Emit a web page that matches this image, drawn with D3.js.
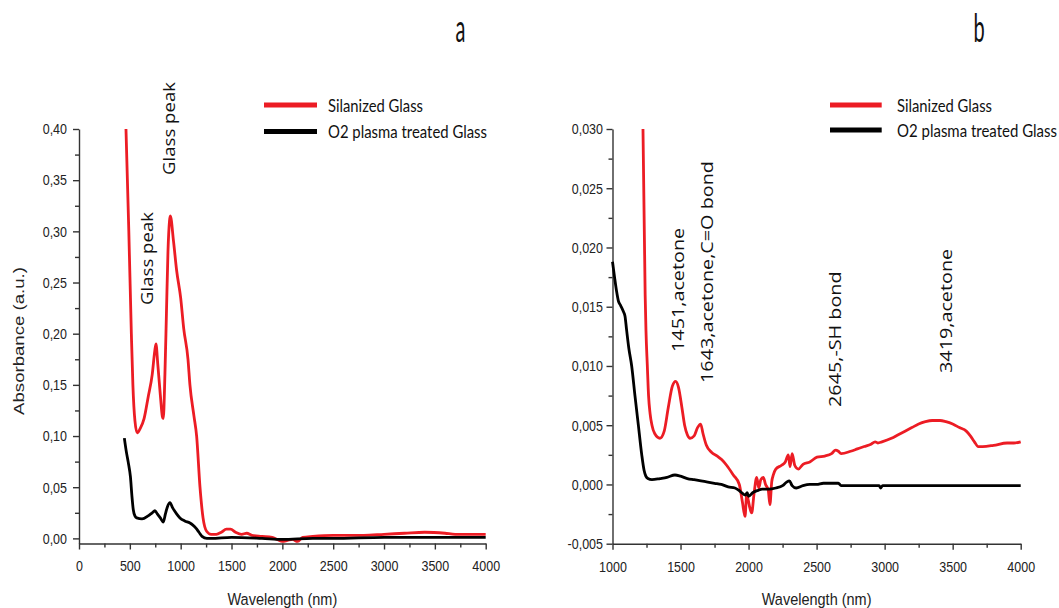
<!DOCTYPE html>
<html>
<head>
<meta charset="utf-8">
<script src="https://cdn.jsdelivr.net/npm/d3@7"></script>
<style>
  html, body { margin: 0; padding: 0; background: #fff; }
  svg { display: block; }
  .axis path, .axis line { stroke: #333; stroke-width: 1.4; }
  .axis text { font-family: "Liberation Sans", Arial, sans-serif; font-size: 12.5px; fill: #222; }
</style>
</head>
<body>
<svg id="chart" width="1059" height="608"></svg>
<script>
// ---- Series names ----
const seriesNames = ["Silanized Glass", "O2 plasma treated Glass"];
const seriesColors = ["#ec1c24", "#000000"];

// ---- Panel a: wavelength (nm) / absorbance ----
const aSilanizedWl = [462, 490, 515, 530, 550, 573, 600, 640, 680, 720, 745, 757, 775, 800, 820, 829, 845, 860, 875, 890, 898,
  930, 960, 1000, 1030, 1072, 1091, 1130, 1157, 1190, 1220, 1255, 1300, 1350, 1400, 1450, 1490, 1540, 1600, 1650, 1700,
  1800, 1900, 1950, 2000, 2050, 2100, 2150, 2200, 2300, 2500, 2800, 3000, 3200, 3400, 3600, 3700, 4000];
const aSilanizedAbs = [0.400, 0.300, 0.200, 0.150, 0.115, 0.103, 0.107, 0.117, 0.138, 0.160, 0.183, 0.190, 0.170, 0.140, 0.119, 0.117, 0.160, 0.220, 0.280, 0.310, 0.315,
  0.290, 0.262, 0.235, 0.205, 0.175, 0.150, 0.120, 0.100, 0.050, 0.020, 0.007, 0.004, 0.004, 0.006, 0.009, 0.009, 0.006, 0.004, 0.005, 0.003,
  0.002, 0.001, -0.001, -0.003, -0.002, -0.001, -0.003, 0.001, 0.002, 0.003, 0.003, 0.004, 0.005, 0.006, 0.005, 0.004, 0.004];

const aPlasmaWl = [446, 465, 485, 506, 520, 534, 550, 568, 620, 680, 720, 747, 770, 800, 829, 850, 870, 895, 920, 960, 993,
  1040, 1091, 1120, 1150, 1180, 1210, 1258, 1300, 1500, 1800, 2000, 2300, 2500, 3000, 3500, 4000];
const aPlasmaAbs = [0.098, 0.085, 0.074, 0.060, 0.042, 0.028, 0.022, 0.020, 0.019, 0.022, 0.025, 0.027, 0.024, 0.020, 0.016, 0.024, 0.031, 0.035, 0.030, 0.024, 0.020,
  0.017, 0.015, 0.013, 0.010, 0.006, 0.002, 0.000, 0.000, 0.001, 0.000, -0.001, 0.000, 0.000, 0.001, 0.001, 0.001];

const aXTicks = [0, 500, 1000, 1500, 2000, 2500, 3000, 3500, 4000];
const aYTicks = [0, 0.05, 0.10, 0.15, 0.20, 0.25, 0.30, 0.35, 0.40];
const aNotes = [
  { text: "Glass peak", wl: 757 },
  { text: "Glass peak", wl: 898 }
];

// ---- Panel b: wavelength (nm) / absorbance ----
const bSilanizedWl = [1224, 1240, 1246, 1256, 1265, 1276, 1290, 1310, 1349, 1380, 1410, 1440, 1464, 1485, 1510, 1530, 1550, 1570, 1600, 1625, 1648,
  1665, 1690, 1729, 1770, 1802, 1840, 1888, 1932, 1955, 1974, 1986, 1997, 2010, 2023, 2040, 2060, 2075, 2090, 2108, 2125, 2145, 2157,
  2170, 2182, 2200, 2240, 2270, 2292, 2305, 2320, 2340, 2366, 2400, 2450, 2503, 2560, 2610, 2640, 2660, 2680, 2750, 2800, 2850, 2900,
  2930, 2950, 2980, 3050, 3100, 3150, 3200, 3250, 3300, 3350, 3407, 3450, 3500, 3550, 3600, 3630, 3660, 3688, 3720, 3800, 3900, 3950, 4000];
const bSilanizedAbs = [0.0300, 0.0160, 0.0130, 0.0100, 0.0075, 0.0060, 0.0050, 0.0043, 0.0039, 0.0045, 0.0065, 0.0083, 0.0087, 0.0082, 0.0065, 0.0050, 0.0042, 0.0039, 0.0041, 0.0048, 0.0051,
  0.0043, 0.0033, 0.0027, 0.0024, 0.0021, 0.0016, 0.0008, 0.0000, -0.0015, -0.0027, -0.0009, -0.0013, -0.0020, -0.0024, -0.0008, 0.0006, -0.0003, 0.0004, 0.0006, 0.0000, -0.0005, -0.0017,
  0.0002, 0.0008, 0.0013, 0.0016, 0.0019, 0.0025, 0.0015, 0.0026, 0.0016, 0.0013, 0.0017, 0.0019, 0.0023, 0.0024, 0.0026, 0.0029, 0.0028, 0.0026, 0.0028, 0.0030, 0.0032, 0.0034,
  0.0036, 0.0035, 0.0036, 0.0039, 0.0042, 0.0045, 0.0048, 0.0051, 0.0053, 0.0054, 0.0054, 0.0053, 0.0051, 0.0048, 0.0045, 0.0041, 0.0036, 0.0032, 0.0032, 0.0033, 0.0035, 0.0035, 0.0036];

const bPlasmaWl = [1000, 1015, 1030, 1043, 1060, 1080, 1092, 1104, 1120, 1141, 1165, 1190, 1215, 1232, 1245, 1260, 1290, 1350, 1400, 1459, 1500,
  1550, 1600, 1650, 1700, 1750, 1800, 1850, 1900, 1940, 1975, 1990, 2000, 2030, 2070, 2100, 2150, 2200, 2250, 2280, 2300, 2320, 2350,
  2400, 2450, 2500, 2550, 2600, 2660, 2680, 2800, 2960, 2970, 2985, 3200, 3500, 4000];
const bPlasmaAbs = [0.0188, 0.0175, 0.0163, 0.0155, 0.0151, 0.0146, 0.0142, 0.0130, 0.0115, 0.0100, 0.0075, 0.0050, 0.0025, 0.0012, 0.0007, 0.0005, 0.0004, 0.0005, 0.0006, 0.0008, 0.0007,
  0.0005, 0.0004, 0.0003, 0.0002, 0.0001, 0.0000, -0.0002, -0.0003, -0.0006, -0.0009, -0.0007, -0.0010, -0.0007, -0.0005, -0.0004, -0.0004, -0.0003, -0.0001, 0.0002, 0.0003, -0.0001, -0.0003,
  -0.0001, 0.0000, 0.0000, 0.0001, 0.0001, 0.0001, -0.0001, -0.0001, -0.0001, -0.0003, -0.0001, -0.0001, -0.0001, -0.0001];

const bXTicks = [1000, 1500, 2000, 2500, 3000, 3500, 4000];
const bYTicks = [-0.005, 0, 0.005, 0.010, 0.015, 0.020, 0.025, 0.030];
const bNotes = [
  { text: "1451,acetone", wl: 1451 },
  { text: "1643,acetone,C=O bond", wl: 1643 },
  { text: "2645,-SH bond", wl: 2645 },
  { text: "3419,acetone", wl: 3419 }
];

// ---- Drawing ----
const svg = d3.select("#chart");
const K = 1.2; // vertical stretch applied to glyphs
const locale = d3.formatLocale({ decimal: ",", thousands: ".", grouping: [3], currency: ["", ""], minus: "-" });

function stretchedText(g, str, x, y, o = {}) {
  const k = o.k || K;
  return g.append("text")
    .attr("transform", `translate(${x},${y}) scale(1,${k})` + (o.rotate ? " rotate(-90)" : ""))
    .attr("text-anchor", o.anchor || "start")
    .attr("font-family", o.family || "'Liberation Sans', Arial, sans-serif")
    .attr("font-size", o.size || 12)
    .attr("fill", o.fill || "#222")
    .text(str);
}

function zip(xs, ys) { return xs.map((d, i) => [d, ys[i]]); }

function panel(cfg) {
  const g = svg.append("g");
  const x = d3.scaleLinear().domain(cfg.xDomain).range(cfg.xRange);
  const y = d3.scaleLinear().domain(cfg.yDomain).range(cfg.yRange);
  const fmt = locale.format(cfg.yFormat);

  // minor ticks halfway between major ticks
  const xMinor = [];
  for (let i = 0; i < cfg.xTicks.length - 1; i++) xMinor.push((cfg.xTicks[i] + cfg.xTicks[i + 1]) / 2);
  const yMinor = [];
  for (let i = 0; i < cfg.yTicks.length - 1; i++) yMinor.push((cfg.yTicks[i] + cfg.yTicks[i + 1]) / 2);

  const xAxisY = cfg.yRange[0];
  const yAxisX = cfg.xRange[0];

  g.append("g").attr("class", "axis").attr("transform", `translate(0,${xAxisY})`)
    .call(d3.axisBottom(x).tickValues(xMinor).tickSize(4).tickSizeOuter(0).tickFormat(""))
    .select(".domain").remove();
  g.append("g").attr("class", "axis").attr("transform", `translate(${yAxisX},0)`)
    .call(d3.axisLeft(y).tickValues(yMinor).tickSize(4).tickSizeOuter(0).tickFormat(""))
    .select(".domain").remove();

  const xa = g.append("g").attr("class", "axis").attr("transform", `translate(0,${xAxisY})`)
    .call(d3.axisBottom(x).tickValues(cfg.xTicks).tickSize(6).tickSizeOuter(0).tickFormat(d3.format("d")));
  xa.selectAll("text").attr("y", 28 / K).attr("dy", 0).attr("transform", `scale(1,${K})`);

  const ya = g.append("g").attr("class", "axis").attr("transform", `translate(${yAxisX},0)`)
    .call(d3.axisLeft(y).tickValues(cfg.yTicks).tickSize(6).tickSizeOuter(0).tickFormat(fmt));
  ya.selectAll("text").attr("x", -(yAxisX - cfg.yLabelRight)).attr("transform", `scale(1,${K})`);

  // spectra
  const line = d3.line().x(d => x(d[0])).y(d => y(d[1])).curve(d3.curveMonotoneX);
  cfg.series.forEach((s, i) => {
    g.append("path").datum(s).attr("d", line)
      .attr("fill", "none").attr("stroke", seriesColors[i])
      .attr("stroke-width", 2.8).attr("stroke-linejoin", "round");
  });

  // peak annotations
  cfg.notes.forEach((n, i) => {
    stretchedText(g, n.text, x(n.wl) + cfg.noteDx[i], cfg.noteBase[i],
      { rotate: true, size: cfg.noteSize, family: "'Open Sans', sans-serif", fill: "#111" });
  });

  // x axis title
  stretchedText(g, "Wavelength (nm)", (cfg.xRange[0] + cfg.xRange[1]) / 2, 605,
    { anchor: "middle", size: 14.5, fill: "#222" });

  // legend
  seriesNames.forEach((name, i) => {
    const ly = cfg.legend.y[i];
    g.append("line").attr("x1", cfg.legend.x1).attr("x2", cfg.legend.x2)
      .attr("y1", ly).attr("y2", ly).attr("stroke", seriesColors[i]).attr("stroke-width", 5);
    stretchedText(g, name, cfg.legend.tx, ly + 6.5, { size: 15, family: "Lato, sans-serif", fill: "#111" })
      .attr("textLength", cfg.legend.len[i]).attr("lengthAdjust", "spacingAndGlyphs");
  });

  // panel letter
  stretchedText(g, cfg.letter, cfg.letterX, 42, { anchor: "middle", size: 20, k: 1.9, family: "Lato, sans-serif", fill: "#111" });

  return { x, y };
}

panel({
  xDomain: [0, 4000], xRange: [79, 485.7],
  yDomain: [-0.005, 0.40], yRange: [543.5, 129],
  xTicks: aXTicks, yTicks: aYTicks, yFormat: ".2f", yLabelRight: 67,
  series: [zip(aSilanizedWl, aSilanizedAbs), zip(aPlasmaWl, aPlasmaAbs)],
  notes: aNotes, noteDx: [-3, 5], noteBase: [305, 175], noteSize: 15.5,
  legend: { x1: 264, x2: 317, y: [105, 131.5], tx: 328, len: [95, 159] },
  letter: "a", letterX: 460.5
});

panel({
  xDomain: [1000, 4000], xRange: [612.5, 1020.7],
  yDomain: [-0.005, 0.030], yRange: [543.7, 129],
  xTicks: bXTicks, yTicks: bYTicks, yFormat: ".3f", yLabelRight: 603,
  series: [zip(bSilanizedWl, bSilanizedAbs), zip(bPlasmaWl, bPlasmaAbs)],
  notes: bNotes, noteDx: [10, 13, 5, 10], noteBase: [352, 383, 407, 373], noteSize: 16.5,
  legend: { x1: 830, x2: 881.7, y: [105, 130], tx: 897, len: [95, 160] },
  letter: "b", letterX: 979
});

// shared y axis title
stretchedText(svg, "Absorbance (a.u.)", 24, 341, { rotate: true, anchor: "middle", size: 15.5, fill: "#222" });
</script>
</body>
</html>
